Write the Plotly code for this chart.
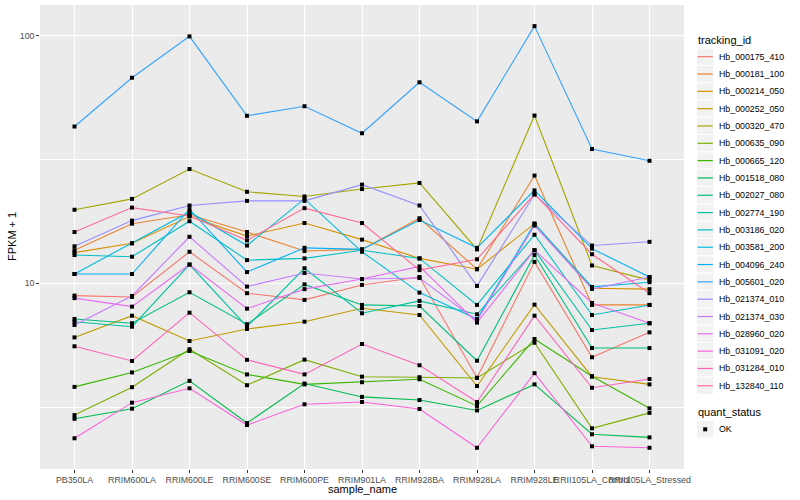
import plotly.graph_objects as go

samples = ["PB350LA", "RRIM600LA", "RRIM600LE", "RRIM600SE", "RRIM600PE", "RRIM901LA",
           "RRIM928BA", "RRIM928LA", "RRIM928LE", "RRII105LA_Control", "RRII105LA_Stressed"]

tracking_ids = ["Hb_000175_410", "Hb_000181_100", "Hb_000214_050", "Hb_000252_050", "Hb_000320_470",
                "Hb_000635_090", "Hb_000665_120", "Hb_001518_080", "Hb_002027_080", "Hb_002774_190",
                "Hb_003186_020", "Hb_003581_200", "Hb_004096_240", "Hb_005601_020", "Hb_021374_010",
                "Hb_021374_030", "Hb_028960_020", "Hb_031091_020", "Hb_031284_010", "Hb_132840_110"]

colors = ["#F8766D", "#EA8331", "#D89000", "#C09B00", "#A3A500", "#7CAE00", "#39B600", "#00BB4E",
          "#00BF7D", "#00C1A3", "#00BFC4", "#00BAE0", "#00B0F6", "#35A2FF", "#9590FF", "#C77CFF",
          "#E76BF3", "#FA62DB", "#FF62BC", "#FF6C91"]

# FPKM + 1 per tracking_id, in sample order
Hb_000175_410 = [8.92, 8.81, 13.4, 9.12, 8.57, 9.85, 10.6, 4.16, 12.2, 5.03, 6.34]
Hb_000181_100 = [13.6, 17.4, 18.9, 16.1, 13.5, 13.7, 18.3, 11.4, 27.2, 8.18, 8.18]
Hb_000214_050 = [13.3, 14.5, 18.6, 15.5, 17.5, 15.0, 12.6, 11.4, 17.4, 9.55, 9.47]
Hb_000252_050 = [6.05, 7.40, 5.85, 6.54, 7.00, 7.93, 7.45, 3.85, 8.20, 4.20, 3.91]
Hb_000320_470 = [19.8, 21.9, 28.9, 23.4, 22.4, 24.0, 25.4, 13.7, 47.5, 11.8, 10.3]
Hb_000635_090 = [2.94, 3.81, 5.42, 3.88, 4.92, 4.20, 4.18, 4.15, 5.76, 2.60, 3.00]
Hb_000665_120 = [3.82, 4.37, 5.33, 4.29, 3.91, 3.99, 4.10, 3.20, 5.96, 4.22, 3.13]
Hb_001518_080 = [2.84, 3.12, 4.04, 2.73, 3.94, 3.48, 3.38, 3.07, 3.91, 2.46, 2.39]
Hb_002027_080 = [7.18, 6.90, 9.20, 6.84, 9.90, 8.18, 8.10, 4.87, 13.0, 5.48, 5.48]
Hb_002774_190 = [7.00, 6.68, 11.9, 6.68, 11.5, 7.57, 8.49, 7.50, 13.6, 6.48, 6.90]
Hb_003186_020 = [13.0, 12.8, 17.8, 12.4, 12.6, 13.6, 12.6, 8.18, 15.7, 7.45, 8.18]
Hb_003581_200 = [10.9, 14.5, 19.4, 14.2, 21.9, 13.4, 9.17, 7.17, 17.4, 9.67, 10.1]
Hb_004096_240 = [10.9, 10.9, 19.9, 11.1, 13.9, 13.7, 18.0, 13.9, 23.7, 13.8, 10.6]
Hb_005601_020 = [42.9, 67.5, 99.1, 47.4, 51.8, 40.3, 64.7, 45.0, 109.0, 34.8, 31.2]
Hb_021374_010 = [14.1, 17.9, 20.6, 21.5, 21.5, 25.0, 20.6, 9.76, 22.8, 14.2, 14.7]
Hb_021374_030 = [6.79, 8.89, 15.4, 9.70, 11.0, 10.4, 10.5, 7.07, 17.1, 9.49, 10.6]
Hb_028960_020 = [8.71, 8.05, 11.9, 7.90, 9.47, 10.4, 11.7, 6.94, 13.6, 8.33, 6.90]
Hb_031091_020 = [2.37, 3.30, 3.77, 2.68, 3.25, 3.32, 3.11, 2.17, 4.34, 2.20, 2.17]
Hb_031284_010 = [5.57, 4.86, 7.61, 4.91, 4.29, 5.69, 4.67, 3.32, 7.40, 3.79, 4.11]
Hb_132840_110 = [16.1, 20.2, 18.7, 14.9, 20.1, 17.5, 11.3, 12.5, 22.9, 13.1, 9.12]

series = [Hb_000175_410, Hb_000181_100, Hb_000214_050, Hb_000252_050, Hb_000320_470,
          Hb_000635_090, Hb_000665_120, Hb_001518_080, Hb_002027_080, Hb_002774_190,
          Hb_003186_020, Hb_003581_200, Hb_004096_240, Hb_005601_020, Hb_021374_010,
          Hb_021374_030, Hb_028960_020, Hb_031091_020, Hb_031284_010, Hb_132840_110]

quant_status = ["OK"]
y_tickvals = [10, 100]
y_ticktext = ["10", "100"]

FONT = "Liberation Sans"
W, H = 800, 500
L, R, T, B = 40, 116, 5, 31
PW, PH = W - L - R, H - T - B


def px_x(px):
    return (px - L) / PW


def px_y(py):
    return (H - B - py) / PH


fig = go.Figure()

for name, col, vals in zip(tracking_ids, colors, series):
    fig.add_trace(go.Scatter(x=samples, y=vals, mode="lines", name=name,
                             line=dict(color=col, width=1.1), showlegend=False))

all_x, all_y = [], []
for vals in series:
    all_x += samples
    all_y += vals
fig.add_trace(go.Scatter(x=all_x, y=all_y, mode="markers", name=quant_status[0],
                         marker=dict(symbol="square", size=4, color="black"), showlegend=False))

shapes = []
annotations = []

# legend: tracking_id
annotations.append(dict(x=px_x(696), y=px_y(40.5), xref="paper", yref="paper", text="tracking_id",
                        showarrow=False, xanchor="left", yanchor="middle",
                        font=dict(family=FONT, size=11, color="black")))
step = 17.32
for i, (name, col) in enumerate(zip(tracking_ids, colors)):
    cy = 56.7 + i * step
    shapes.append(dict(type="rect", xref="paper", yref="paper",
                       x0=px_x(696.5), x1=px_x(713.8), y0=px_y(cy - step / 2), y1=px_y(cy + step / 2),
                       fillcolor="#F2F2F2", line=dict(color="white", width=1), layer="above"))
    shapes.append(dict(type="line", xref="paper", yref="paper",
                       x0=px_x(697.5), x1=px_x(712.8), y0=px_y(cy), y1=px_y(cy),
                       line=dict(color=col, width=1.2), layer="above"))
    annotations.append(dict(x=px_x(716.5), y=px_y(cy), xref="paper", yref="paper", text=name,
                            showarrow=False, xanchor="left", yanchor="middle",
                            font=dict(family=FONT, size=8.8, color="black")))

# legend: quant_status
annotations.append(dict(x=px_x(696), y=px_y(412.3), xref="paper", yref="paper", text="quant_status",
                        showarrow=False, xanchor="left", yanchor="middle",
                        font=dict(family=FONT, size=11, color="black")))
qy = 429.3
shapes.append(dict(type="rect", xref="paper", yref="paper",
                   x0=px_x(696.5), x1=px_x(713.8), y0=px_y(qy - step / 2), y1=px_y(qy + step / 2),
                   fillcolor="#F2F2F2", line=dict(color="white", width=1), layer="above"))
shapes.append(dict(type="rect", xref="paper", yref="paper",
                   x0=px_x(703.2), x1=px_x(707.2), y0=px_y(qy - 2), y1=px_y(qy + 2),
                   fillcolor="black", line=dict(width=0), layer="above"))
annotations.append(dict(x=px_x(716.5), y=px_y(qy), xref="paper", yref="paper", text=quant_status[0],
                        showarrow=False, xanchor="left", yanchor="middle",
                        font=dict(family=FONT, size=8.8, color="black")))

# axis titles
annotations.append(dict(x=0.5, y=px_y(488.5), xref="paper", yref="paper", text="sample_name",
                        showarrow=False, xanchor="center", yanchor="middle",
                        font=dict(family=FONT, size=11, color="black")))
annotations.append(dict(x=px_x(12), y=px_y(237), xref="paper", yref="paper", text="FPKM + 1",
                        showarrow=False, xanchor="center", yanchor="middle", textangle=-90,
                        font=dict(family=FONT, size=11, color="black")))

fig.update_layout(
    width=W, height=H,
    margin=dict(l=L, r=R, t=T, b=B, pad=0),
    paper_bgcolor="white", plot_bgcolor="#EBEBEB",
    font=dict(family=FONT, size=9, color="#4D4D4D"),
    showlegend=False,
    shapes=shapes, annotations=annotations,
    xaxis=dict(type="category", categoryorder="array", categoryarray=samples,
               range=[-0.6, len(samples) - 0.4], showgrid=True, gridcolor="white", gridwidth=1.07,
               zeroline=False, showline=False, ticks="outside", ticklen=2.75, tickwidth=1,
               tickcolor="#333333", tickangle=0, tickfont=dict(family=FONT, size=8.8, color="#4D4D4D"),
               fixedrange=True),
    yaxis=dict(type="log", range=[0.2508, 2.1227], tickmode="array", tickvals=y_tickvals,
               ticktext=y_ticktext, showgrid=True, gridcolor="white", gridwidth=1.07,
               zeroline=False, showline=False, ticks="outside", ticklen=2.75, tickwidth=1,
               tickcolor="#333333", tickfont=dict(family=FONT, size=8.8, color="#4D4D4D"),
               minor=dict(tickmode="array", tickvals=[10 ** 0.5, 10 ** 1.5], showgrid=True,
                          gridcolor="white", gridwidth=0.55, ticks=""),
               fixedrange=True),
)

fig.write_html("out.html", config={"displayModeBar": False},
               post_script="document.body.style.margin='0';document.body.style.overflow='hidden';")
